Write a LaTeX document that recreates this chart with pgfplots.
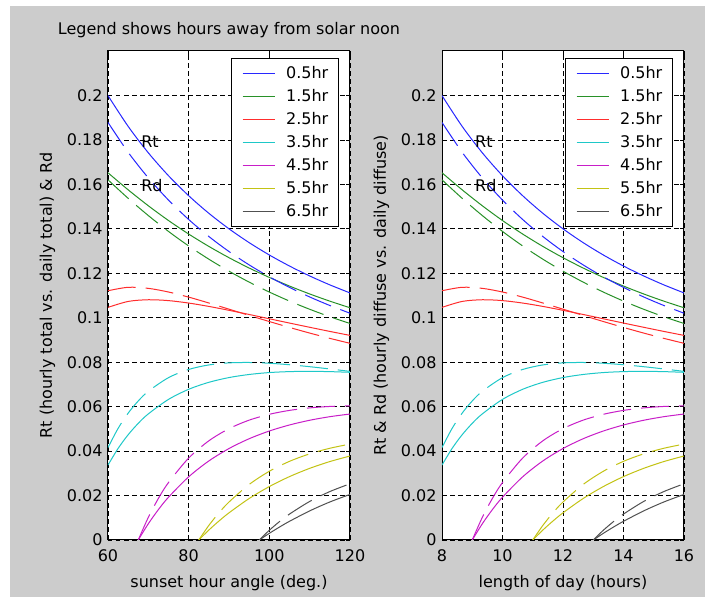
\documentclass[border=0pt]{standalone}
\usepackage{fontspec}
\setmainfont{DejaVu Sans}
\usepackage{pgfplots}
\usepackage{pgfplotstable}
\pgfplotsset{compat=1.18}

\definecolor{figgrey}{RGB}{204,204,204}
\definecolor{mblue}{RGB}{40,40,255}
\definecolor{mgreen}{RGB}{40,145,40}
\definecolor{mred}{RGB}{255,45,45}
\definecolor{mcyan}{RGB}{30,200,200}
\definecolor{mmag}{RGB}{200,30,200}
\definecolor{myel}{RGB}{195,195,20}
\definecolor{mgrey}{RGB}{80,80,80}
\newcommand\bigf{\fontsize{16}{19}\selectfont}

% ws = sunset hour angle (deg), N = day length (h); rt solid, rd dashed
\pgfplotstableread{
ws    N       rt      rd
60    8       0.19993 0.18786
65    8.6667  0.18608 0.17443
70    9.3333  0.17419 0.16290
75    10      0.16389 0.15292
80    10.6667 0.15490 0.14420
85    11.3333 0.14699 0.13655
90    12      0.14000 0.12978
95    12.6667 0.13378 0.12377
100   13.3333 0.12823 0.11842
105   14      0.12326 0.11363
110   14.6667 0.11880 0.10935
115   15.3333 0.11478 0.10550
120   16      0.11116 0.10204
}\cA
\pgfplotstableread{
ws    N       rt      rd
60    8       0.16521 0.16204
65    8.6667  0.15754 0.15371
70    9.3333  0.15037 0.14596
75    10      0.14373 0.13882
80    10.6667 0.13765 0.13229
85    11.3333 0.13209 0.12634
90    12      0.12701 0.12094
95    12.6667 0.12236 0.11602
100   13.3333 0.11813 0.11155
105   14      0.11425 0.10749
110   14.6667 0.11070 0.10381
115   15.3333 0.10746 0.10046
120   16      0.10449 0.09742
}\cB
\pgfplotstableread{
ws    N       rt      rd
60    8       0.10466 0.11214
65    8.6667  0.10733 0.11369
70    9.3333  0.10809 0.11321
75    10      0.10770 0.11157
80    10.6667 0.10660 0.10927
85    11.3333 0.10509 0.10663
90    12      0.10333 0.10385
95    12.6667 0.10146 0.10104
100   13.3333 0.09953 0.09829
105   14      0.09760 0.09563
110   14.6667 0.09570 0.09310
115   15.3333 0.09384 0.09072
120   16      0.09205 0.08849
}\cC
\pgfplotstableread{
ws    N       rt      rd
60    8       0.03373 0.04158
62.5  8.3333  0.04119 0.05020
65    8.6667  0.04736 0.05708
67.5  9       0.05248 0.06256
70    9.3333  0.05674 0.06691
75    10      0.06326 0.07304
80    10.6667 0.06780 0.07672
85    11.3333 0.07094 0.07876
90    12      0.07308 0.07969
95    12.6667 0.07447 0.07986
100   13.3333 0.07533 0.07952
105   14      0.07576 0.07885
110   14.6667 0.07588 0.07797
115   15.3333 0.07575 0.07695
120   16      0.07544 0.07586
}\cD
\pgfplotstableread{
ws    N       rt      rd
67.5  9       0       0
70    9.3333  0.00732 0.01020
72.5  9.6667  0.01368 0.01872
75    10      0.01925 0.02585
80    10.6667 0.02842 0.03686
85    11.3333 0.03556 0.04462
90    12      0.04115 0.05009
95    12.6667 0.04556 0.05392
100   13.3333 0.04903 0.05655
105   14      0.05175 0.05831
110   14.6667 0.05387 0.05943
115   15.3333 0.05548 0.06008
120   16      0.05667 0.06039
}\cE
\pgfplotstableread{
ws    N       rt      rd
82.5  11      0       0
85    11.3333 0.00446 0.00655
87.5  11.6667 0.00852 0.01220
90    12      0.01222 0.01709
95    12.6667 0.01867 0.02498
100   13.3333 0.02404 0.03092
105   14      0.02852 0.03539
110   14.6667 0.03223 0.03875
115   15.3333 0.03529 0.04127
120   16      0.03778 0.04314
}\cF
\pgfplotstableread{
ws    N       rt      rd
97.5  13      0       0
100   13.3333 0.00300 0.00438
102.5 13.6667 0.00580 0.00825
105   14      0.00841 0.01166
110   14.6667 0.01309 0.01734
115   15.3333 0.01710 0.02179
120   16      0.02050 0.02528
}\cG

\pgfplotsset{
  legend image code/.code={\draw[#1] (0pt,0pt) -- (32pt,0pt);},
  panel/.style={
    anchor=south west, scale only axis, width=242pt, height=489pt,
    ymin=0, ymax=0.22,
    ytick={0,0.02,0.04,0.06,0.08,0.1,0.12,0.14,0.16,0.18,0.2},
    yticklabels={0,0.02,0.04,0.06,0.08,0.1,0.12,0.14,0.16,0.18,0.2},
    axis background/.style={fill=white},
    axis line style={black, line width=1pt},
    tick align=inside, major tick length=4pt,
    tick style={black, line width=0.8pt},
    grid=major, grid style={black, line width=0.8pt, dash pattern=on 4.5pt off 3.5pt},
    tick label style={font=\bigf},
    xticklabel style={yshift=-6.5pt},
    yticklabel style={xshift=-2pt},
    label style={font=\bigf},
    title style={font=\bigf},
    /pgf/number format/assume math mode=true,
    ylabel style={at={(axis description cs:-0.25,0.5)}, anchor=center},
    xlabel style={at={(axis description cs:0.5,0)}, anchor=base, yshift=-48pt},
    legend style={at={(1,1)}, anchor=north east, xshift=-10.7pt, yshift=-7.3pt,
      draw=black, line width=1pt, fill=white, font=\bigf,
      inner xsep=10.5pt, inner ysep=3.5pt, row sep=0pt, column sep=11pt,
      nodes={inner xsep=0pt, inner ysep=2pt, text height=14pt, text depth=5pt}},
    legend cell align=left,
  },
  rt/.style={line width=1pt, smooth, solid},
  rd/.style={line width=1pt, smooth, dash pattern=on 28pt off 10pt, forget plot},
}

\begin{document}
\begin{tikzpicture}[x=1pt,y=1pt]
\fill[white] (0,0) rectangle (705,597);
\fill[figgrey] (10,0) rectangle (705,591);

\begin{axis}[panel, at={(108pt,57pt)},
  xmin=60, xmax=120, xtick={60,80,100,120},
  xlabel={sunset hour angle (deg.)},
  ylabel={Rt (hourly total vs. daily total) \& Rd},
  title={Legend shows hours away from solar noon},
  title style={at={(axis description cs:0.5,1)}, anchor=base, yshift=10pt},
]
\addplot[rt, mblue] table[x=ws, y=rt] {\cA}; \addlegendentry{0.5hr}
\addplot[rt, mgreen] table[x=ws, y=rt] {\cB}; \addlegendentry{1.5hr}
\addplot[rt, mred] table[x=ws, y=rt] {\cC}; \addlegendentry{2.5hr}
\addplot[rt, mcyan] table[x=ws, y=rt] {\cD}; \addlegendentry{3.5hr}
\addplot[rt, mmag] table[x=ws, y=rt] {\cE}; \addlegendentry{4.5hr}
\addplot[rt, myel] table[x=ws, y=rt] {\cF}; \addlegendentry{5.5hr}
\addplot[rt, mgrey] table[x=ws, y=rt] {\cG}; \addlegendentry{6.5hr}
\addplot[rd, mblue] table[x=ws, y=rd] {\cA};
\addplot[rd, mgreen] table[x=ws, y=rd] {\cB};
\addplot[rd, mred] table[x=ws, y=rd] {\cC};
\addplot[rd, mcyan] table[x=ws, y=rd] {\cD};
\addplot[rd, mmag] table[x=ws, y=rd] {\cE};
\addplot[rd, myel] table[x=ws, y=rd] {\cF};
\addplot[rd, mgrey] table[x=ws, y=rd] {\cG};
\node[anchor=west, font=\bigf, inner sep=0pt] at (axis cs:68.2,0.179) {Rt};
\node[anchor=west, font=\bigf, inner sep=0pt] at (axis cs:68.2,0.1596) {Rd};
\end{axis}

\begin{axis}[panel, at={(442pt,57pt)},
  xmin=8, xmax=16, xtick={8,10,12,14,16},
  xlabel={length of day (hours)},
  ylabel={Rt \& Rd (hourly diffuse vs. daily diffuse)},
]
\addplot[rt, mblue] table[x=N, y=rt] {\cA}; \addlegendentry{0.5hr}
\addplot[rt, mgreen] table[x=N, y=rt] {\cB}; \addlegendentry{1.5hr}
\addplot[rt, mred] table[x=N, y=rt] {\cC}; \addlegendentry{2.5hr}
\addplot[rt, mcyan] table[x=N, y=rt] {\cD}; \addlegendentry{3.5hr}
\addplot[rt, mmag] table[x=N, y=rt] {\cE}; \addlegendentry{4.5hr}
\addplot[rt, myel] table[x=N, y=rt] {\cF}; \addlegendentry{5.5hr}
\addplot[rt, mgrey] table[x=N, y=rt] {\cG}; \addlegendentry{6.5hr}
\addplot[rd, mblue] table[x=N, y=rd] {\cA};
\addplot[rd, mgreen] table[x=N, y=rd] {\cB};
\addplot[rd, mred] table[x=N, y=rd] {\cC};
\addplot[rd, mcyan] table[x=N, y=rd] {\cD};
\addplot[rd, mmag] table[x=N, y=rd] {\cE};
\addplot[rd, myel] table[x=N, y=rd] {\cF};
\addplot[rd, mgrey] table[x=N, y=rd] {\cG};
\node[anchor=west, font=\bigf, inner sep=0pt] at (axis cs:9.09,0.179) {Rt};
\node[anchor=west, font=\bigf, inner sep=0pt] at (axis cs:9.09,0.1596) {Rd};
\end{axis}
\end{tikzpicture}
\end{document}
